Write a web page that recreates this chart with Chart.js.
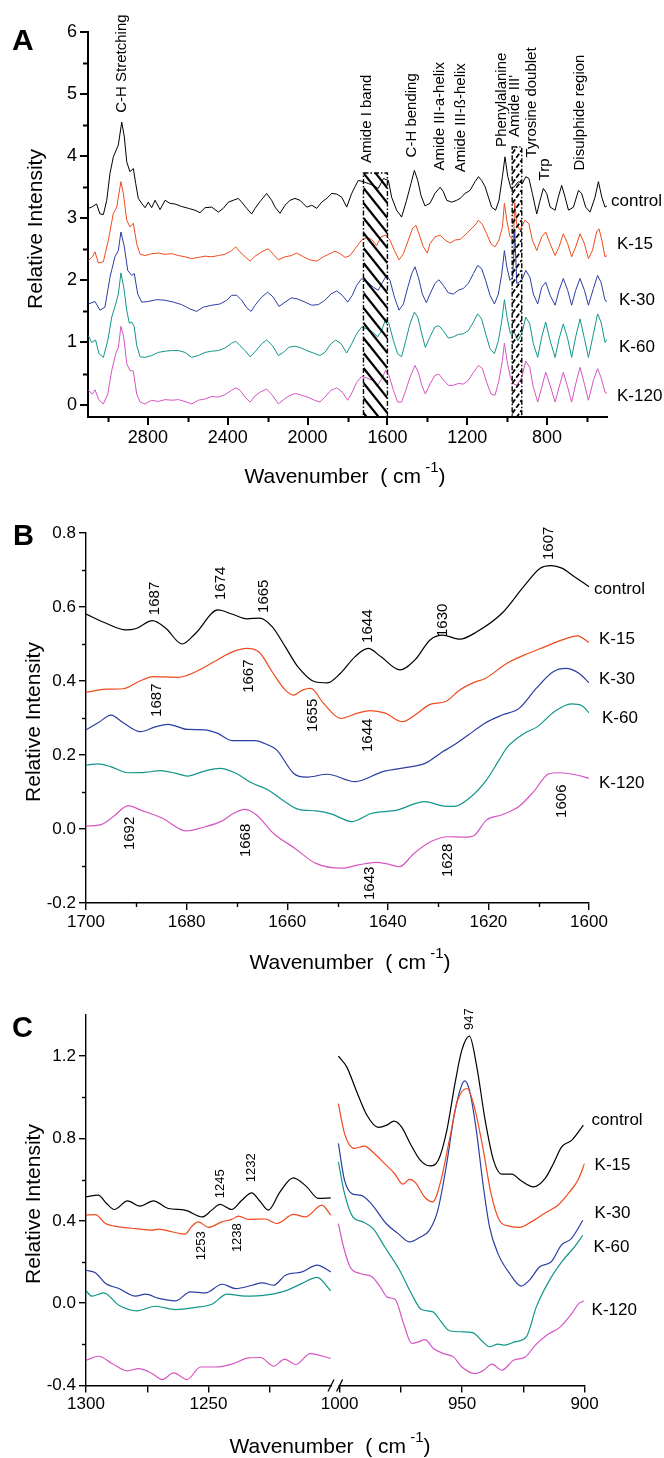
<!DOCTYPE html>
<html><head><meta charset="utf-8">
<script src="https://cdn.jsdelivr.net/npm/chart.js@4.4.1/dist/chart.umd.min.js"></script>
<style>
html,body{margin:0;padding:0;background:#fff;}
body{width:664px;height:1458px;position:relative;overflow:hidden;}
canvas{position:absolute;left:0;}
</style></head><body>
<canvas id="cA" width="664" height="500" style="top:0px"></canvas>
<canvas id="cB" width="664" height="490" style="top:500px"></canvas>
<canvas id="cC" width="664" height="468" style="top:990px"></canvas>
<script>
const FONT = "'Liberation Sans', Arial, sans-serif";
const seriesNames = ['control','K-15','K-30','K-60','K-120'];
const seriesColors = ['#000000','#f04a1e','#2b3ea3','#11968a','#d556c3'];

// ---------- Panel A ----------
const aXTicks = [2800,2400,2000,1600,1200,800];
const aXMinor = [3000,2600,2200,1800,1400,1000,600];
const aYTicks = [0,1,2,3,4,5,6];
const aYMinor = [0.5,1.5,2.5,3.5,4.5,5.5];
const aControl = [[3098,3.16],[3082,3.18],[3057,3.23],[3040,3.07],[3023,3.06],[3006,3.29],[2990,3.72],[2973,3.99],[2948,4.18],[2931,4.55],[2918,4.31],[2906,3.91],[2890,3.75],[2873,3.80],[2861,3.56],[2848,3.32],[2831,3.24],[2814,3.17],[2798,3.26],[2781,3.17],[2764,3.29],[2739,3.14],[2714,3.29],[2689,3.24],[2664,3.23],[2631,3.19],[2597,3.16],[2564,3.13],[2539,3.09],[2514,3.17],[2480,3.18],[2447,3.10],[2422,3.16],[2397,3.26],[2372,3.29],[2347,3.32],[2330,3.26],[2305,3.16],[2280,3.07],[2263,3.16],[2238,3.27],[2205,3.40],[2180,3.29],[2163,3.18],[2138,3.08],[2113,3.21],[2088,3.29],[2063,3.32],[2038,3.29],[2004,3.18],[1979,3.21],[1954,3.16],[1929,3.26],[1904,3.32],[1879,3.40],[1854,3.39],[1829,3.34],[1804,3.18],[1779,3.40],[1762,3.51],[1746,3.61],[1721,3.59],[1696,3.56],[1670,3.53],[1646,3.48],[1620,3.64],[1595,3.61],[1579,3.34],[1554,3.13],[1529,3.02],[1504,3.29],[1482,3.56],[1465,3.77],[1448,3.61],[1432,3.37],[1412,3.20],[1387,3.24],[1362,3.40],[1336,3.50],[1320,3.43],[1303,3.29],[1278,3.26],[1253,3.29],[1236,3.32],[1211,3.40],[1186,3.45],[1161,3.59],[1144,3.67],[1128,3.61],[1111,3.51],[1094,3.34],[1078,3.18],[1058,3.13],[1041,3.29],[1024,3.67],[1011,3.99],[997,3.67],[981,3.48],[964,3.51],[944,3.59],[924,3.56],[907,3.67],[891,3.64],[874,3.40],[852,3.07],[835,3.29],[819,3.48],[802,3.40],[785,3.18],[760,3.13],[744,3.34],[727,3.53],[710,3.34],[693,3.13],[668,3.18],[643,3.45],[627,3.40],[607,3.18],[585,3.10],[560,3.34],[543,3.59],[526,3.34],[510,3.18],[500,3.20]];
const aK15 = [[3098,2.32],[3078,2.38],[3065,2.46],[3048,2.28],[3023,2.30],[2998,2.65],[2973,3.08],[2956,3.18],[2948,3.34],[2935,3.59],[2923,3.40],[2906,2.97],[2890,2.86],[2873,2.92],[2856,2.59],[2839,2.42],[2814,2.40],[2781,2.43],[2748,2.44],[2714,2.42],[2681,2.43],[2647,2.40],[2614,2.38],[2581,2.35],[2547,2.37],[2514,2.39],[2480,2.38],[2447,2.40],[2414,2.42],[2380,2.48],[2360,2.54],[2339,2.46],[2313,2.38],[2288,2.31],[2263,2.39],[2230,2.46],[2197,2.51],[2172,2.42],[2146,2.33],[2113,2.38],[2080,2.40],[2055,2.44],[2021,2.38],[1988,2.33],[1954,2.31],[1921,2.38],[1888,2.43],[1863,2.47],[1837,2.43],[1812,2.37],[1787,2.40],[1762,2.51],[1729,2.65],[1704,2.69],[1679,2.66],[1654,2.56],[1632,2.70],[1609,2.73],[1587,2.65],[1565,2.48],[1542,2.33],[1520,2.43],[1495,2.65],[1475,2.83],[1458,2.89],[1442,2.75],[1420,2.54],[1400,2.44],[1387,2.59],[1362,2.70],[1336,2.73],[1311,2.65],[1286,2.60],[1261,2.65],[1236,2.66],[1211,2.73],[1186,2.81],[1161,2.89],[1144,2.97],[1124,2.90],[1103,2.75],[1081,2.59],[1061,2.54],[1041,2.65],[1024,2.86],[1014,3.24],[1002,2.97],[986,2.70],[969,2.65],[962,3.25],[952,2.90],[936,2.81],[911,2.97],[891,2.91],[874,2.65],[852,2.48],[827,2.70],[807,2.78],[785,2.59],[760,2.40],[740,2.54],[719,2.75],[697,2.59],[677,2.38],[657,2.54],[635,2.75],[613,2.59],[593,2.35],[573,2.48],[552,2.78],[540,2.83],[526,2.65],[510,2.38],[500,2.40]];
const aK30 = [[3098,1.62],[3065,1.66],[3040,1.52],[3015,1.57],[2990,2.05],[2965,2.38],[2948,2.48],[2935,2.78],[2918,2.54],[2901,2.16],[2881,2.08],[2868,2.11],[2851,1.78],[2831,1.65],[2798,1.66],[2756,1.69],[2714,1.68],[2672,1.65],[2631,1.61],[2589,1.54],[2556,1.50],[2522,1.57],[2480,1.60],[2439,1.62],[2405,1.68],[2380,1.76],[2355,1.76],[2330,1.68],[2305,1.56],[2283,1.50],[2263,1.60],[2230,1.73],[2200,1.81],[2172,1.73],[2143,1.58],[2113,1.65],[2080,1.72],[2050,1.70],[2013,1.65],[1979,1.60],[1946,1.61],[1913,1.68],[1883,1.78],[1854,1.83],[1826,1.76],[1799,1.65],[1776,1.76],[1754,1.92],[1729,2.03],[1699,1.97],[1670,1.89],[1646,1.84],[1625,1.97],[1604,2.08],[1587,2.00],[1565,1.73],[1542,1.52],[1520,1.62],[1498,1.89],[1478,2.11],[1462,2.22],[1445,2.05],[1425,1.78],[1405,1.64],[1387,1.78],[1362,1.95],[1342,2.01],[1320,1.92],[1295,1.80],[1270,1.78],[1245,1.84],[1220,1.87],[1195,1.95],[1169,2.11],[1148,2.24],[1128,2.19],[1108,2.00],[1086,1.76],[1064,1.62],[1044,1.78],[1027,2.11],[1014,2.48],[1002,2.22],[986,2.00],[972,2.05],[962,2.80],[952,1.95],[927,2.00],[907,2.16],[886,2.05],[869,1.78],[847,1.62],[827,1.89],[807,1.97],[785,1.76],[760,1.60],[740,1.84],[719,2.03],[697,1.84],[677,1.60],[657,1.84],[635,2.03],[613,1.84],[593,1.60],[568,1.87],[547,2.08],[530,1.97],[510,1.68],[500,1.66]];
const aK60 = [[3098,1.11],[3082,1.00],[3062,1.04],[3045,0.82],[3023,0.76],[3001,1.03],[2981,1.41],[2961,1.62],[2948,1.78],[2935,2.12],[2921,1.89],[2906,1.52],[2893,1.31],[2881,1.33],[2868,1.25],[2856,0.95],[2839,0.77],[2814,0.76],[2781,0.79],[2748,0.84],[2714,0.86],[2681,0.87],[2647,0.87],[2614,0.84],[2581,0.76],[2547,0.79],[2514,0.84],[2480,0.86],[2447,0.87],[2414,0.91],[2380,0.99],[2360,1.02],[2339,0.95],[2313,0.87],[2288,0.77],[2263,0.85],[2230,0.98],[2205,1.04],[2176,0.95],[2146,0.79],[2121,0.84],[2096,0.92],[2066,0.94],[2038,0.92],[2004,0.87],[1971,0.83],[1938,0.79],[1913,0.84],[1883,0.98],[1859,1.04],[1832,0.98],[1804,0.83],[1779,0.98],[1754,1.14],[1729,1.25],[1704,1.22],[1675,1.17],[1649,1.09],[1629,1.19],[1609,1.38],[1592,1.30],[1570,1.03],[1549,0.82],[1529,0.77],[1508,1.03],[1487,1.30],[1465,1.49],[1448,1.41],[1428,1.14],[1410,0.92],[1387,1.09],[1362,1.25],[1342,1.27],[1320,1.19],[1295,1.07],[1270,1.09],[1245,1.13],[1220,1.14],[1195,1.19],[1169,1.33],[1148,1.46],[1128,1.38],[1108,1.14],[1086,0.90],[1064,0.82],[1044,1.03],[1027,1.35],[1014,1.69],[1001,1.41],[984,1.14],[967,1.19],[947,1.03],[927,1.14],[907,1.41],[887,1.30],[869,0.98],[847,0.76],[827,1.09],[807,1.33],[785,1.03],[760,0.76],[740,1.06],[719,1.30],[697,1.06],[677,0.76],[657,1.09],[635,1.38],[613,1.06],[593,0.76],[568,1.14],[547,1.46],[530,1.33],[510,1.00],[500,1.05]];
const aK120 = [[3098,0.23],[3078,0.17],[3065,0.24],[3045,0.07],[3023,0.01],[3001,0.17],[2981,0.55],[2961,0.82],[2948,0.92],[2935,1.26],[2921,1.09],[2906,0.66],[2890,0.55],[2873,0.54],[2856,0.17],[2839,0.04],[2814,0.01],[2781,0.07],[2748,0.05],[2714,0.08],[2681,0.07],[2647,0.08],[2614,0.05],[2581,0.01],[2547,0.07],[2514,0.09],[2480,0.13],[2447,0.12],[2414,0.16],[2380,0.23],[2360,0.27],[2339,0.23],[2313,0.12],[2288,0.04],[2263,0.14],[2238,0.20],[2205,0.25],[2176,0.15],[2146,0.01],[2116,0.09],[2088,0.15],[2060,0.18],[2030,0.15],[1999,0.12],[1966,0.07],[1938,0.04],[1913,0.12],[1883,0.23],[1854,0.27],[1826,0.20],[1799,0.07],[1776,0.20],[1754,0.36],[1729,0.45],[1704,0.43],[1675,0.39],[1649,0.31],[1629,0.41],[1609,0.55],[1592,0.47],[1570,0.23],[1549,0.04],[1529,0.04],[1508,0.23],[1487,0.44],[1462,0.63],[1445,0.52],[1428,0.31],[1410,0.17],[1387,0.33],[1362,0.47],[1342,0.49],[1320,0.40],[1295,0.31],[1270,0.31],[1245,0.34],[1220,0.33],[1195,0.39],[1169,0.52],[1144,0.63],[1124,0.58],[1103,0.36],[1081,0.17],[1061,0.15],[1041,0.39],[1024,0.71],[1014,0.99],[1001,0.71],[984,0.44],[967,0.33],[952,0.31],[927,0.44],[907,0.70],[887,0.60],[869,0.28],[847,0.04],[827,0.28],[807,0.52],[785,0.31],[760,0.04],[740,0.28],[719,0.52],[697,0.28],[677,0.04],[657,0.33],[635,0.60],[613,0.33],[593,0.07],[568,0.39],[547,0.58],[530,0.44],[510,0.20],[500,0.18]];
const aBoxFrom = [1720, 975];
const aBoxTo = [1600, 927];
const aBoxTop = [3.73, 4.15];
const aNotes = [['C-H Stretching',2930,4.70],['Amide I band',1704,3.89],['C-H bending',1478,3.98],['Amide III-a-helix',1336,3.77],['Amide III-\u00df-helix',1233,3.74],['Phenylalanine',1027,4.15],["Amide III'",961,4.31],['Tyrosine doublet',877,3.98],['Trp',810,3.61],['Disulphide region',635,3.77]];
const aLabelY = [3.27,2.58,1.68,0.92,0.13];

// ---------- Panel B ----------
const bXTicks = [1700,1680,1660,1640,1620,1600];
const bXMinor = [1690,1670,1650,1630,1610];
const bYTicks = [-0.2,0,0.2,0.4,0.6,0.8];
const bYLabels = ['-0.2','0.0','0.2','0.4','0.6','0.8'];
const bYMinor = [-0.1,0.1,0.3,0.5,0.7];
const bControl = [[1700,0.581],[1696,0.556],[1692.1,0.538],[1690,0.542],[1686.8,0.563],[1684.1,0.542],[1680.9,0.500],[1678.2,0.529],[1673.8,0.592],[1671,0.581],[1668,0.568],[1665.5,0.570],[1663,0.547],[1660.4,0.493],[1657.9,0.439],[1654.5,0.398],[1652,0.395],[1649.4,0.421],[1646.5,0.466],[1643.9,0.488],[1641.4,0.466],[1637.6,0.430],[1634.6,0.457],[1631.6,0.511],[1629.1,0.524],[1625.7,0.513],[1622.3,0.533],[1617.3,0.583],[1613,0.655],[1609.7,0.705],[1607.5,0.712],[1605.4,0.705],[1602.9,0.682],[1600,0.655]];
const bK15 = [[1700,0.369],[1696,0.378],[1692.6,0.379],[1689.6,0.398],[1686.6,0.412],[1681.6,0.410],[1678.2,0.425],[1673.9,0.457],[1671,0.478],[1668,0.488],[1665.5,0.477],[1663,0.425],[1660.4,0.376],[1658.7,0.362],[1656.9,0.376],[1655.3,0.380],[1652.8,0.340],[1649.4,0.299],[1646,0.313],[1643.5,0.320],[1640.5,0.313],[1637.1,0.290],[1634.1,0.313],[1631.6,0.337],[1628.6,0.344],[1625.7,0.376],[1623.1,0.395],[1620.6,0.407],[1616.3,0.448],[1612.9,0.470],[1608.7,0.493],[1605.3,0.511],[1602.3,0.522],[1600,0.504]];
const bK30 = [[1700,0.268],[1697.6,0.287],[1695,0.308],[1692.6,0.287],[1689.2,0.263],[1686.2,0.276],[1683.7,0.283],[1679.8,0.269],[1676.5,0.268],[1673.9,0.259],[1671,0.239],[1666.4,0.239],[1663.8,0.227],[1662.1,0.214],[1658.7,0.150],[1656.2,0.140],[1652,0.148],[1646.5,0.128],[1641,0.155],[1635.9,0.167],[1632.5,0.178],[1629.1,0.209],[1627.4,0.222],[1624,0.254],[1620.7,0.286],[1617.3,0.308],[1613.9,0.326],[1610.5,0.380],[1607.1,0.425],[1604.6,0.434],[1602,0.421],[1600,0.395]];
const bK60 = [[1700,0.173],[1697.6,0.176],[1695,0.168],[1691.6,0.152],[1688.2,0.153],[1685.2,0.158],[1682.3,0.151],[1679.8,0.143],[1676.8,0.155],[1673.4,0.164],[1670.4,0.152],[1667.1,0.125],[1663.7,0.105],[1661.1,0.080],[1657.7,0.053],[1654.3,0.049],[1651.3,0.041],[1647.1,0.020],[1643.3,0.042],[1638.2,0.051],[1632.7,0.074],[1628.9,0.062],[1626.8,0.061],[1623.8,0.083],[1620.4,0.132],[1617.9,0.186],[1616.2,0.222],[1612.8,0.259],[1610.3,0.276],[1606.9,0.317],[1603.5,0.338],[1601.4,0.333],[1600,0.314]];
const bK120 = [[1700,0.008],[1697.2,0.011],[1694.6,0.033],[1691.6,0.063],[1689.1,0.051],[1684.8,0.029],[1680.2,-0.005],[1676.3,0.006],[1672.9,0.022],[1670.8,0.041],[1668.5,0.053],[1666.1,0.038],[1662.7,-0.012],[1658.5,-0.052],[1654.3,-0.093],[1649.2,-0.106],[1645.8,-0.097],[1642.4,-0.090],[1639.9,-0.095],[1637.7,-0.102],[1634.8,-0.066],[1631.4,-0.034],[1628,-0.021],[1624.6,-0.022],[1622.9,-0.018],[1620.4,0.024],[1617.4,0.038],[1614,0.060],[1611,0.101],[1608,0.149],[1605.9,0.152],[1602.5,0.146],[1600,0.137]];
const bNotes = [['1687',1686.3,0.578],['1674',1673.2,0.619],['1665',1664.6,0.584],['1644',1643.9,0.503],['1630',1629.1,0.519],['1607',1608,0.727],['1687',1685.9,0.303],['1667',1667.6,0.368],['1655',1654.9,0.262],['1644',1643.9,0.208],['1692',1691.3,-0.057],['1668',1668.2,-0.076],['1643',1643.5,-0.192],['1628',1628,-0.130],['1606',1605.4,0.030]];
const bLabelY = [0.649,0.514,0.405,0.300,0.124];

// ---------- Panel C (broken axis: 1300-1200 | 1000-900) ----------
const cXTicks = [1300,1275,1250,1225,1000,975,950,925,900];
const cXLabels = ['1300','','1250','','1000','','950','','900'];
const cYTicks = [-0.4,0,0.4,0.8,1.2];
const cYLabels = ['-0.4','0.0','0.4','0.8','1.2'];
const cYMinor = [-0.2,0.2,0.6,1.0];
const cControl = [[1300,0.517],[1295,0.525],[1291.6,0.484],[1288.4,0.455],[1283,0.497],[1278,0.471],[1272.5,0.497],[1266.4,0.460],[1259.6,0.452],[1252.5,0.419],[1248.7,0.452],[1245.3,0.480],[1240.5,0.455],[1236.4,0.500],[1232.4,0.536],[1229,0.495],[1225.6,0.452],[1220.8,0.541],[1215.4,0.609],[1209.9,0.565],[1205.2,0.509],[1200.1,0.512],
 [1000.5,1.200],[997.1,1.148],[993,1.027],[988.9,0.914],[984.2,0.854],[980.7,0.865],[977.8,0.884],[974.6,0.854],[971.2,0.776],[967.1,0.695],[963.1,0.667],[959.7,0.695],[956.2,0.841],[952.9,1.068],[950.1,1.229],[947,1.297],[944,1.148],[940.6,0.889],[937.2,0.695],[933.8,0.627],[929.7,0.627],[926.3,0.598],[920.9,0.565],[916.1,0.606],[912.7,0.679],[909.3,0.760],[905.2,0.792],[900.5,0.865]];
const cK15 = [[1300,0.428],[1296.2,0.430],[1292,0.387],[1286.6,0.371],[1279.8,0.362],[1273,0.355],[1270.3,0.360],[1264.9,0.347],[1259.6,0.335],[1256.8,0.374],[1254.1,0.395],[1250,0.368],[1244.6,0.395],[1240.5,0.407],[1237.8,0.423],[1233.7,0.407],[1226.9,0.409],[1222.1,0.387],[1215.3,0.431],[1210.5,0.419],[1203.7,0.476],[1200.1,0.428],
 [1000.5,0.970],[998,0.825],[994,0.752],[989.9,0.763],[985.8,0.727],[981.7,0.679],[977.6,0.630],[974.2,0.578],[971.5,0.601],[968.8,0.582],[965.4,0.517],[962,0.492],[958.6,0.598],[955.2,0.792],[951.8,0.986],[948,1.043],[945,0.954],[941.6,0.760],[938.2,0.533],[934.8,0.403],[930.7,0.374],[926.6,0.368],[921.8,0.395],[916.4,0.436],[910.9,0.476],[906.1,0.541],[902.7,0.598],[900,0.679]];
const cK30 = [[1300,0.160],[1296.2,0.148],[1292,0.096],[1286.6,0.071],[1279.8,0.034],[1275.7,0.044],[1270.3,0.023],[1263.5,0.011],[1257.4,0.055],[1251.2,0.050],[1244.4,0.092],[1239,0.071],[1232.2,0.087],[1228.1,0.099],[1223.4,0.087],[1218.6,0.136],[1211.8,0.152],[1205.7,0.185],[1200.1,0.152],
 [1000.5,0.776],[998,0.598],[994.6,0.530],[991.2,0.524],[987.1,0.484],[981,0.387],[976.2,0.339],[971.5,0.298],[967.4,0.319],[963.3,0.355],[959.9,0.452],[956.5,0.662],[953.1,0.922],[950.4,1.051],[949,1.080],[947,1.035],[944.2,0.841],[941.5,0.582],[938.8,0.371],[935.4,0.242],[930.6,0.144],[925.9,0.083],[922.5,0.112],[918.4,0.176],[913.6,0.201],[909.5,0.282],[905.4,0.314],[900.7,0.403]];
const cK60 = [[1300,0.060],[1297.6,0.034],[1292.8,0.050],[1286.6,-0.010],[1279.2,-0.037],[1271.7,-0.015],[1263.5,-0.031],[1255.4,-0.021],[1248.6,-0.005],[1242.4,0.044],[1235,0.034],[1226.9,0.039],[1218.6,0.060],[1211.8,0.096],[1205.7,0.125],[1200.1,0.060],
 [1000.5,0.687],[998,0.533],[994.6,0.419],[990.5,0.395],[986.4,0.363],[981.6,0.274],[975.5,0.160],[970.7,0.047],[966.6,-0.031],[961.9,-0.042],[958.5,-0.091],[955.1,-0.134],[949.6,-0.139],[945.5,-0.144],[941.5,-0.188],[938.8,-0.212],[935.4,-0.199],[932.6,-0.204],[928.5,-0.188],[923.8,-0.164],[919.7,-0.018],[914.3,0.112],[908.8,0.209],[904.1,0.274],[900.7,0.330]];
const cK120 = [[1300,-0.277],[1294.8,-0.258],[1289.4,-0.293],[1283.2,-0.329],[1278.5,-0.318],[1273,-0.342],[1268.9,-0.371],[1264.2,-0.339],[1258.7,-0.371],[1253.3,-0.310],[1247.2,-0.310],[1240.4,-0.296],[1233.6,-0.266],[1228.8,-0.264],[1223.4,-0.306],[1218.9,-0.272],[1214.5,-0.298],[1208.4,-0.245],[1200.1,-0.269],
 [1000.5,0.387],[998.4,0.274],[995.7,0.176],[991.6,0.144],[986.8,0.128],[983.4,0.079],[980.4,0.028],[977.3,0.018],[973.9,-0.099],[970.5,-0.196],[967.8,-0.188],[965.1,-0.177],[961.7,-0.220],[957.6,-0.245],[953.5,-0.261],[950.1,-0.310],[944.7,-0.342],[941.2,-0.326],[937.8,-0.296],[933.8,-0.326],[929,-0.277],[924.2,-0.261],[920.1,-0.204],[915.4,-0.155],[909.9,-0.115],[905.2,-0.050],[902.4,-0.002],[900.4,0.010]];
const cNotes = [['947',947,1.327],['1245',1245.3,0.510],['1232',1232.4,0.588],['1253',1252.8,0.209],['1238',1238,0.248]];
const cLabelY = [0.889,0.671,0.437,0.272,-0.034];

// map wavenumber -> broken-axis coordinate for panel C
const C_GAP = 3.5;
function mapC(w){ return w >= 1100 ? 1300 - w : 100 + C_GAP + (1000 - w); }

function drawXTitle(ctx, cx, cy, size){
  ctx.save(); ctx.fillStyle='#000'; ctx.textBaseline='middle'; ctx.textAlign='left';
  const f1 = size+'px '+FONT, f2 = Math.round(size*0.7)+'px '+FONT;
  const t1='Wavenumber  ( cm', t2=' -1', t3=')';
  ctx.font=f1; const w1=ctx.measureText(t1).width, w3=ctx.measureText(t3).width;
  ctx.font=f2; const w2=ctx.measureText(t2).width;
  let x = cx-(w1+w2+w3)/2;
  ctx.font=f1; ctx.fillText(t1,x,cy); x+=w1;
  ctx.font=f2; ctx.fillText(t2,x,cy-size*0.45); x+=w2;
  ctx.font=f1; ctx.fillText(t3,x,cy);
  ctx.restore();
}
function drawRot(ctx, text, x, y, font, align){
  ctx.save(); ctx.translate(x,y); ctx.rotate(-Math.PI/2);
  ctx.font=font; ctx.fillStyle='#000'; ctx.textAlign=align||'left'; ctx.textBaseline='middle';
  ctx.fillText(text,0,0); ctx.restore();
}

function panel(p){
  const mx = p.mapX || (v=>v);
  const datasets = p.series.map((s,i)=>{
    let data;
    if (p.mapX){
      const left = s.filter(d=>d[0]>=1100).map(d=>({x:mx(d[0]),y:d[1]}));
      const right = s.filter(d=>d[0]<1100).map(d=>({x:mx(d[0]),y:d[1]}));
      data = left.concat([{x:100+C_GAP/2,y:null}], right);
    } else data = s.map(d=>({x:d[0],y:d[1]}));
    return {data, borderColor:seriesColors[i], borderWidth:p.lw, pointRadius:0, fill:false,
      tension:p.tension, cubicInterpolationMode:p.mono?'monotone':'default', spanGaps:false};
  });
  const deco = {
    id:'deco'+p.id,
    afterDatasetsDraw(chart){
      if (!p.boxes) return;
      const ctx=chart.ctx, xs=chart.scales.x, ys=chart.scales.y, ca=chart.chartArea;
      p.boxes.forEach(b=>{
        const xa=xs.getPixelForValue(b.from), xb=xs.getPixelForValue(b.to);
        const l=Math.min(xa,xb), r=Math.max(xa,xb), t=ys.getPixelForValue(b.top), bt=ca.bottom;
        const w=r-l, h=bt-t;
        ctx.save(); ctx.beginPath(); ctx.rect(l,t,w,h); ctx.clip();
        ctx.strokeStyle='#000'; ctx.lineWidth=b.hw; ctx.setLineDash(b.dash);
        for (let k=-w*b.slope-b.gap; k<h+w*b.slope+b.gap; k+=b.gap){
          ctx.beginPath();
          if (b.dir>0){ ctx.moveTo(l,t+k); ctx.lineTo(r,t+k+w*b.slope); }
          else { ctx.moveTo(l,t+k); ctx.lineTo(r,t+k-w*b.slope); }
          ctx.stroke();
        }
        ctx.restore();
        ctx.save(); ctx.strokeStyle='#000'; ctx.lineWidth=1.4; ctx.setLineDash([5,2,1.5,2]);
        ctx.strokeRect(l,t,w,h); ctx.restore();
      });
    },
    afterDraw(chart){
      const ctx=chart.ctx, xs=chart.scales.x, ys=chart.scales.y, ca=chart.chartArea;
      ctx.save(); ctx.strokeStyle='#000'; ctx.lineWidth=p.axw;
      (p.xMinor||[]).forEach(v=>{ const x=Math.round(xs.getPixelForValue(mx(v)))+0.5; ctx.beginPath(); ctx.moveTo(x,ca.bottom); ctx.lineTo(x,ca.bottom+p.minorLen); ctx.stroke(); });
      (p.yMinor||[]).forEach(v=>{ const y=Math.round(ys.getPixelForValue(v))+0.5; ctx.beginPath(); ctx.moveTo(ca.left-p.minorLen,y); ctx.lineTo(ca.left,y); ctx.stroke(); });
      if (p.mapX){
        // axis break
        const x1=xs.getPixelForValue(100), x2=xs.getPixelForValue(100+C_GAP), yb=ca.bottom;
        ctx.fillStyle='#fff'; ctx.fillRect(x1+1,yb-3,x2-x1-2,6);
        ctx.lineWidth=1.3;
        [x1,x2].forEach(x=>{ ctx.beginPath(); ctx.moveTo(x-3,yb+6); ctx.lineTo(x+3,yb-6); ctx.stroke(); });
      }
      ctx.restore();
      p.notes.forEach(n=>drawRot(ctx,n[0],xs.getPixelForValue(mx(n[1])),ys.getPixelForValue(n[2]),p.noteFont+'px '+FONT,'left'));
      ctx.save(); ctx.fillStyle='#000'; ctx.font=p.labFont+'px '+FONT; ctx.textAlign='left'; ctx.textBaseline='middle';
      seriesNames.forEach((nm,i)=>ctx.fillText(nm, ca.right+p.labDx[i], ys.getPixelForValue(p.labelY[i])));
      ctx.font='bold '+p.letterSize+'px Arial, '+FONT; ctx.textBaseline='alphabetic';
      ctx.fillText(p.letter, p.letterPos[0], p.letterPos[1]);
      ctx.restore();
      drawRot(ctx,'Relative Intensity',p.yTitle[0],p.yTitle[1],p.titleSize+'px '+FONT,'center');
      drawXTitle(ctx,p.xTitle[0],p.xTitle[1],p.titleSize);
    }
  };
  const tickFont = {family:FONT, size:p.tickSize};
  return new Chart(document.getElementById(p.id), {
    type:'line',
    data:{datasets},
    plugins:[deco],
    options:{
      responsive:false, animation:false, devicePixelRatio:1,
      layout:{padding:{top:p.top,right:664-p.right,left:0,bottom:0}},
      plugins:{legend:{display:false},tooltip:{enabled:false}},
      scales:{
        x:{type:'linear', min:p.xMin, max:p.xMax, reverse:!!p.rev,
          afterBuildTicks:s=>{ s.ticks=p.xTicks.map(v=>({value:mx(v)})); },
          afterFit:s=>{ s.height=p.H-p.bottom; },
          ticks:{autoSkip:false, maxRotation:0, padding:2, color:'#000', font:tickFont,
            callback:(v,i)=>p.xLabels[i]},
          grid:{drawOnChartArea:false, drawTicks:true, tickLength:p.majorLen, color:'#000', tickColor:'#000', tickWidth:p.axw, lineWidth:p.axw},
          border:{display:true, color:'#000', width:p.axw}},
        y:{type:'linear', min:p.yMin, max:p.yMax,
          afterBuildTicks:s=>{ s.ticks=p.yTicks.map(v=>({value:v})); },
          afterFit:s=>{ s.width=p.left; },
          ticks:{autoSkip:false, padding:3, color:'#000', font:tickFont,
            callback:(v,i)=>p.yLabels[i]},
          grid:{drawOnChartArea:false, drawTicks:true, tickLength:p.majorLen, color:'#000', tickColor:'#000', tickWidth:p.axw, lineWidth:p.axw},
          border:{display:true, color:'#000', width:p.axw}}
      }
    }
  });
}

panel({id:'cA', H:500, top:32, bottom:417, left:88, right:607,
  xMin:500, xMax:3100, rev:true, yMin:-0.2, yMax:6,
  xTicks:aXTicks, xLabels:aXTicks.map(String), xMinor:aXMinor,
  yTicks:aYTicks, yLabels:aYTicks.map(String), yMinor:aYMinor,
  series:[aControl,aK15,aK30,aK60,aK120], lw:1, tension:0, mono:false, axw:2,
  majorLen:8, minorLen:5, tickSize:18,
  boxes:[{from:aBoxFrom[0],to:aBoxTo[0],top:aBoxTop[0],dir:1,slope:1.25,gap:15,hw:2.2,dash:[]},
         {from:aBoxFrom[1],to:aBoxTo[1],top:aBoxTop[1],dir:-1,slope:1.4,gap:10,hw:1.8,dash:[5,2]}],
  notes:aNotes, noteFont:15, labelY:aLabelY, labDx:[4,10,12,12,10], labFont:17,
  letter:'A', letterPos:[12,50], letterSize:30, yTitle:[36,229], xTitle:[345,477], titleSize:21});

panel({id:'cB', H:490, top:33, bottom:403, left:86, right:589,
  xMin:1600, xMax:1700, rev:true, yMin:-0.2, yMax:0.8,
  xTicks:bXTicks, xLabels:bXTicks.map(String), xMinor:bXMinor,
  yTicks:bYTicks, yLabels:bYLabels, yMinor:bYMinor,
  series:[bControl,bK15,bK30,bK60,bK120], lw:1.2, tension:0.4, mono:true, axw:1.4,
  majorLen:7, minorLen:4, tickSize:17,
  notes:bNotes, noteFont:15, labelY:bLabelY, labDx:[5,10,10,13,10], labFont:17,
  letter:'B', letterPos:[13,45], letterSize:29, yTitle:[34,222], xTitle:[350,463], titleSize:21});

panel({id:'cC', H:468, top:25, bottom:395.5, left:86, right:584.6,
  xMin:0, xMax:200+C_GAP, mapX:mapC, yMin:-0.4, yMax:1.4,
  xTicks:cXTicks, xLabels:cXLabels, xMinor:[],
  yTicks:cYTicks, yLabels:cYLabels, yMinor:cYMinor,
  series:[cControl,cK15,cK30,cK60,cK120], lw:1.2, tension:0.4, mono:true, axw:1.4,
  majorLen:7, minorLen:4, tickSize:17,
  notes:cNotes, noteFont:13, labelY:cLabelY, labDx:[7,10,10,9,7], labFont:17,
  letter:'C', letterPos:[12,47], letterSize:29, yTitle:[34,214], xTitle:[330,457], titleSize:21});
</script>
</body></html>
